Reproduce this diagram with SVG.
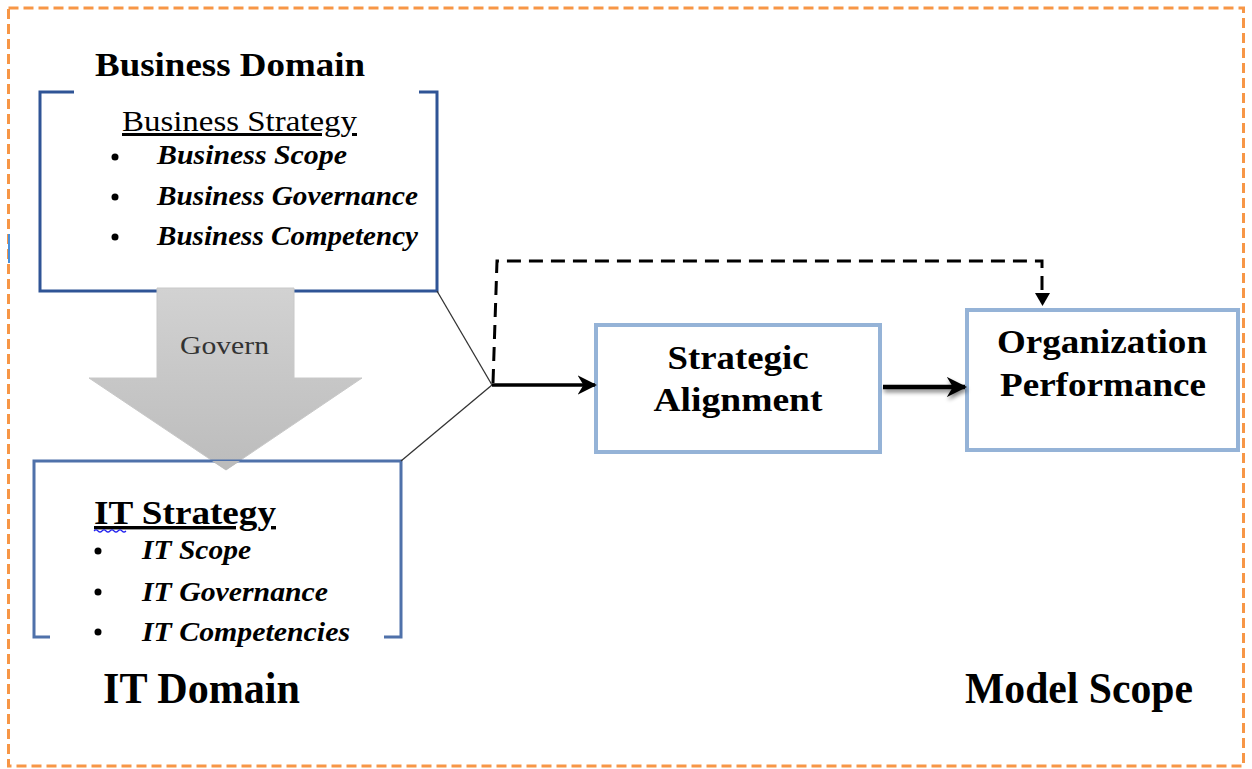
<svg xmlns="http://www.w3.org/2000/svg" width="1252" height="769" viewBox="0 0 1252 769">
<style>
.serif{font-family:"Liberation Serif","Times New Roman",serif;fill:#000}
.b{font-weight:bold}
.it{font-style:italic;font-weight:bold}
.box{fill:#fff;stroke:#95B3D7;stroke-width:4}
</style>
<defs>
<linearGradient id="gg" x1="0" y1="0" x2="0" y2="1">
<stop offset="0" stop-color="#d2d2d2"/>
<stop offset="1" stop-color="#bcbcbc"/>
</linearGradient>
<marker id="ah" viewBox="0 0 10 10" refX="9" refY="5" markerWidth="5.5" markerHeight="5.5" orient="auto" markerUnits="strokeWidth">
<path d="M0,0 L10,5 L0,10 L3,5 Z" fill="#000"/>
</marker>
<marker id="ah2" viewBox="0 0 10 10" refX="9" refY="5" markerWidth="4.5" markerHeight="4.5" orient="auto" markerUnits="strokeWidth">
<path d="M0,0 L10,5 L0,10 L3,5 Z" fill="#000"/>
</marker>
<filter id="sh" filterUnits="userSpaceOnUse" x="860" y="360" width="130" height="60">
<feGaussianBlur in="SourceAlpha" stdDeviation="2"/>
<feOffset dx="1" dy="3"/>
<feComponentTransfer><feFuncA type="linear" slope="0.5"/></feComponentTransfer>
<feMerge><feMergeNode/><feMergeNode in="SourceGraphic"/></feMerge>
</filter>
</defs>
<rect width="1252" height="769" fill="#fff"/>
<rect x="8.5" y="8" width="1235" height="758" fill="none" stroke="#F79646" stroke-width="3" stroke-dasharray="10,5"/>
<line x1="9" y1="234" x2="9" y2="263" stroke="#4a90d9" stroke-width="2"/>

<g id="business-domain">
<path d="M74,92 H40 V291 H437 V92 H419" fill="none" stroke="#2F5496" stroke-width="3"/>
<text class="serif b" x="95" y="76" font-size="34" textLength="270" lengthAdjust="spacingAndGlyphs">Business Domain</text>
<text class="serif" x="122" y="131" font-size="30" text-decoration="underline" textLength="235" lengthAdjust="spacingAndGlyphs">Business Strategy</text>
<circle cx="115" cy="157" r="3.5" fill="#000"/>
<circle cx="115" cy="197" r="3.5" fill="#000"/>
<circle cx="115" cy="237" r="3.5" fill="#000"/>
<text class="serif it" x="157" y="164" font-size="27" textLength="190" lengthAdjust="spacingAndGlyphs">Business Scope</text>
<text class="serif it" x="157" y="205" font-size="27" textLength="261" lengthAdjust="spacingAndGlyphs">Business Governance</text>
<text class="serif it" x="157" y="245" font-size="27" textLength="261" lengthAdjust="spacingAndGlyphs">Business Competency</text>
</g>

<g id="govern-arrow">
<path d="M157,288 H294 V378 H362 L226,470 L89,378 H157 Z" fill="url(#gg)" stroke="#c8c8c8" stroke-width="1"/>
<text x="180" y="354" font-size="26" font-family="Liberation Serif, serif" fill="#333" textLength="89" lengthAdjust="spacingAndGlyphs">Govern</text>
</g>

<g id="it-domain">
<path d="M50,637 H34 V461 H401 V637 H384" fill="none" stroke="#4F71AA" stroke-width="3"/>
<path d="M226,470 L212,461 H240 Z" fill="#bcbcbc"/>
<text class="serif b" x="94" y="524" font-size="34" text-decoration="underline" textLength="182" lengthAdjust="spacingAndGlyphs">IT Strategy</text>
<path d="M94,531 q2,-2 4,0 t4,0 t4,0 t4,0 t4,0 t4,0 t4,0 t4,0" fill="none" stroke="#2222ee" stroke-width="1.2"/>
<circle cx="98" cy="551" r="3.5" fill="#000"/>
<circle cx="98" cy="592" r="3.5" fill="#000"/>
<circle cx="98" cy="632" r="3.5" fill="#000"/>
<text class="serif it" x="142" y="559" font-size="27" textLength="109" lengthAdjust="spacingAndGlyphs">IT Scope</text>
<text class="serif it" x="142" y="601" font-size="27" textLength="186" lengthAdjust="spacingAndGlyphs">IT Governance</text>
<text class="serif it" x="142" y="641" font-size="27" textLength="208" lengthAdjust="spacingAndGlyphs">IT Competencies</text>
<text class="serif b" x="103" y="703" font-size="44" textLength="197" lengthAdjust="spacingAndGlyphs">IT Domain</text>
</g>

<g id="strategic-alignment">
<rect class="box" x="596" y="325" width="284" height="127"/>
<text class="serif b" x="738" y="369" font-size="34" text-anchor="middle" textLength="141" lengthAdjust="spacingAndGlyphs">Strategic</text>
<text class="serif b" x="738" y="411" font-size="34" text-anchor="middle" textLength="169" lengthAdjust="spacingAndGlyphs">Alignment</text>
</g>

<g id="organization-performance">
<rect class="box" x="967" y="310" width="271" height="140"/>
<text class="serif b" x="1102" y="353" font-size="34" text-anchor="middle" textLength="210" lengthAdjust="spacingAndGlyphs">Organization</text>
<text class="serif b" x="1103" y="396" font-size="34" text-anchor="middle" textLength="206" lengthAdjust="spacingAndGlyphs">Performance</text>
</g>

<g id="model-scope">
<text class="serif b" x="965" y="703" font-size="44" textLength="228" lengthAdjust="spacingAndGlyphs">Model Scope</text>
</g>

<g id="connectors">
<line x1="437" y1="291" x2="492" y2="385" stroke="#333" stroke-width="1.3"/>
<line x1="401" y1="461" x2="492" y2="385" stroke="#333" stroke-width="1.3"/>
<line x1="492" y1="385" x2="595" y2="385" stroke="#000" stroke-width="3.5" marker-end="url(#ah)"/>
<path d="M493,383 L497,261 H1042 V292" fill="none" stroke="#000" stroke-width="3" stroke-dasharray="14,8"/>
<path d="M1035,293 H1050 L1042.5,306 Z" fill="#000"/>
<line x1="883" y1="387" x2="965" y2="387" stroke="#000" stroke-width="4.5" marker-end="url(#ah2)" filter="url(#sh)"/>
</g>
</svg>
